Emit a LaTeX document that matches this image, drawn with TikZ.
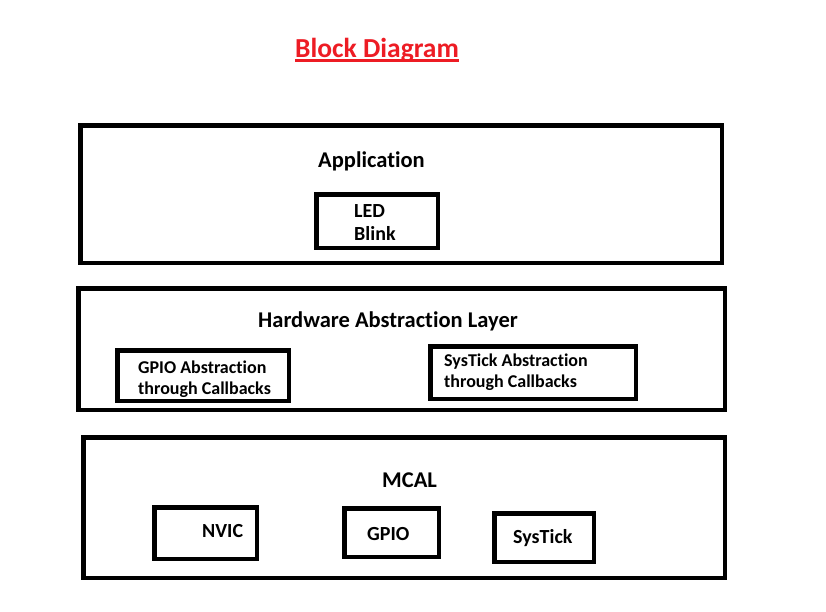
\documentclass[tikz,border=0pt]{standalone}
\usepackage{fontspec}
\setmainfont{Carlito}[Ligatures={NoCommon,NoContextual,NoRare}]
\definecolor{titlered}{RGB}{237,28,36}
\begin{document}
\begin{tikzpicture}[x=1pt, y=-1pt,
  layerbox/.style={shape=rectangle, draw=black, line width=4.5pt, inner sep=0pt},
  blockbox/.style={shape=rectangle, draw=black, line width=4.5pt, inner sep=0pt},
  txt/.style={inner sep=0pt, anchor=base west, align=left, font=\bfseries\fontsize{#1}{#1}\selectfont}]
\useasboundingbox (0,0) rectangle (826,611);
\node[txt=27.5, text=titlered] (title) at (295,57) {Block Diagram};
\draw[titlered, line width=2.8pt] ([yshift=-3.6pt]title.base west) -- ([yshift=-3.6pt]title.base east);
\node[layerbox, minimum width=641.5pt, minimum height=137.5pt] (app) at (401,194) {};
\node[layerbox, minimum width=646.5pt, minimum height=121.5pt] (hal) at (401.5,349) {};
\node[layerbox, minimum width=641.5pt, minimum height=140.5pt] (mcal) at (404,507.5) {};
\node[blockbox, minimum width=121.5pt, minimum height=53.5pt] (led) at (377,221) {};
\node[blockbox, minimum width=171.5pt, minimum height=50.5pt] (gpioabs) at (203,375.5) {};
\node[blockbox, minimum width=205.5pt, minimum height=52.5pt] (sysabs) at (533,372.5) {};
\node[blockbox, minimum width=102.5pt, minimum height=51.5pt] (nvic) at (205.5,533) {};
\node[blockbox, minimum width=94.5pt, minimum height=48.5pt] (gpio) at (391.5,532.5) {};
\node[blockbox, minimum width=99.5pt, minimum height=48.5pt] (systick) at (544,537.5) {};
\node[txt=22.5] (apptitle) at (318,167) {Application};
\node[txt=22.5] (haltitle) at (258,327) {Hardware Abstraction Layer};
\node[txt=22.5] (mcaltitle) at (382,487) {MCAL};
\node[txt=20, font=\bfseries\fontsize{20}{23}\selectfont] (ledtxt) at (354,240) {LED\\Blink};
\node[txt=18, font=\bfseries\fontsize{18}{21}\selectfont] (gpioabstxt) at (138,394) {GPIO Abstraction\\through Callbacks};
\node[txt=18, font=\bfseries\fontsize{18}{21}\selectfont] (sysabstxt) at (444,387) {SysTick Abstraction\\through Callbacks};
\node[txt=20] (nvictxt) at (202,537) {NVIC};
\node[txt=20] (gpiotxt) at (367,540) {GPIO};
\node[txt=20] (systicktxt) at (513,543) {SysTick};
\end{tikzpicture}
\end{document}
